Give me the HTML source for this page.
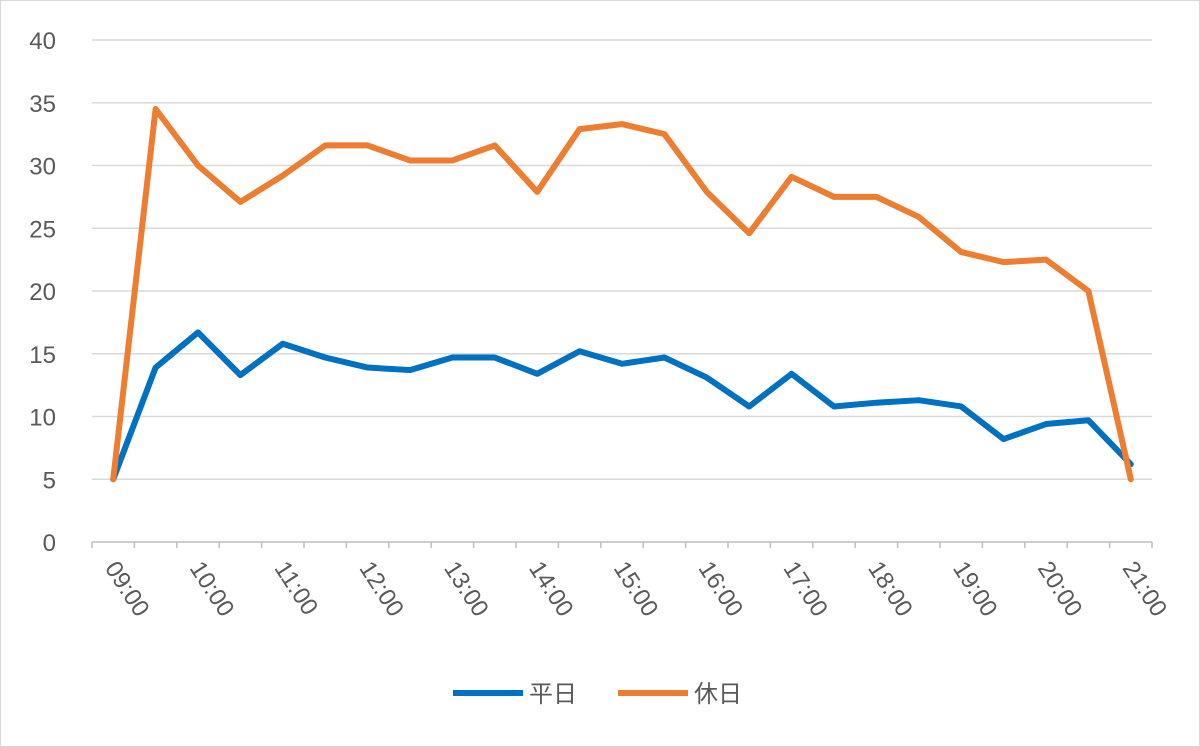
<!DOCTYPE html>
<html><head><meta charset="utf-8"><style>
body{margin:0;background:#fff;}
svg{display:block;font-family:"Liberation Sans","Noto Sans CJK JP",sans-serif;}
</style></head><body>
<svg width="1200" height="747" viewBox="0 0 1200 747">
<rect x="0.5" y="0.5" width="1199" height="746" fill="#fff" stroke="#d9d9d9"/>
<g id="grid"></g><g id="axes"></g><g id="series"></g>
<g>
<line x1="453" y1="693" x2="523" y2="693" stroke="#0070c0" stroke-width="6"/>
<text x="529" y="702" font-size="24" fill="#595959">平日</text>
<line x1="618" y1="693" x2="688" y2="693" stroke="#ed7d31" stroke-width="6"/>
<text x="694" y="702" font-size="24" fill="#595959">休日</text>
</g>
</svg>
<script>
const categories=["09:00","09:30","10:00","10:30","11:00","11:30","12:00","12:30","13:00","13:30","14:00","14:30","15:00","15:30","16:00","16:30","17:00","17:30","18:00","18:30","19:00","19:30","20:00","20:30","21:00"];
const weekday=[5,13.9,16.7,13.3,15.8,14.7,13.9,13.7,14.7,14.7,13.4,15.2,14.2,14.7,13.1,10.8,13.4,10.8,11.1,11.3,10.8,8.2,9.4,9.7,6.2];
const holiday=[5,34.5,30,27.1,29.2,31.6,31.6,30.4,30.4,31.6,27.9,32.9,33.3,32.5,27.9,24.6,29.1,27.5,27.5,25.9,23.1,22.3,22.5,20,5];
const yTicks=[0,5,10,15,20,25,30,35,40];
const NS="http://www.w3.org/2000/svg";
const x0=92,x1=1152,y0=542,y1=40,yMax=40;
const bw=(x1-x0)/categories.length;
const xs=i=>x0+bw*(i+0.5);
const ys=v=>y0-(v/yMax)*(y0-y1);
function mk(t,a,p){const e=document.createElementNS(NS,t);for(const k in a)e.setAttribute(k,a[k]);p.appendChild(e);return e;}
const grid=document.getElementById('grid'),axes=document.getElementById('axes'),ser=document.getElementById('series');
yTicks.forEach(v=>{
 if(v>0){const l=mk('line',{x1:x0,x2:x1,y1:ys(v),y2:ys(v),stroke:'#d9d9d9','stroke-width':1.5},grid);
 
 }
 const t=mk('text',{x:56,y:ys(v)+9,'font-size':24,fill:'#595959','text-anchor':'end'},axes);
 t.textContent=v;
 
 
});
const ax=mk('line',{x1:x0,x2:x1,y1:y0,y2:y0,stroke:'#bfbfbf','stroke-width':1.5},axes);


for(let i=0;i<=categories.length;i++){
 const tk=mk('line',{x1:x0+bw*i,x2:x0+bw*i,y1:y0,y2:y0+6,stroke:'#bfbfbf','stroke-width':1.5},axes);
 
 
}
categories.forEach((c,i)=>{
 if(i%2)return;
 const x=xs(i)-9,y=y0+26;
 const t=mk('text',{x:x,y:y,'font-size':24,fill:'#595959',transform:`rotate(57 ${x} ${y})`},axes);
 t.textContent=c;
 
 
});
function line(vals,color,name){
 const p=mk('polyline',{points:vals.map((v,i)=>xs(i)+','+ys(v)).join(' '),fill:'none',stroke:color,'stroke-width':6,'stroke-linejoin':'round','stroke-linecap':'round'},ser);
 
 
}
line(weekday,'#0070c0','series-weekday');
line(holiday,'#ed7d31','series-holiday');
</script>
</body></html>
